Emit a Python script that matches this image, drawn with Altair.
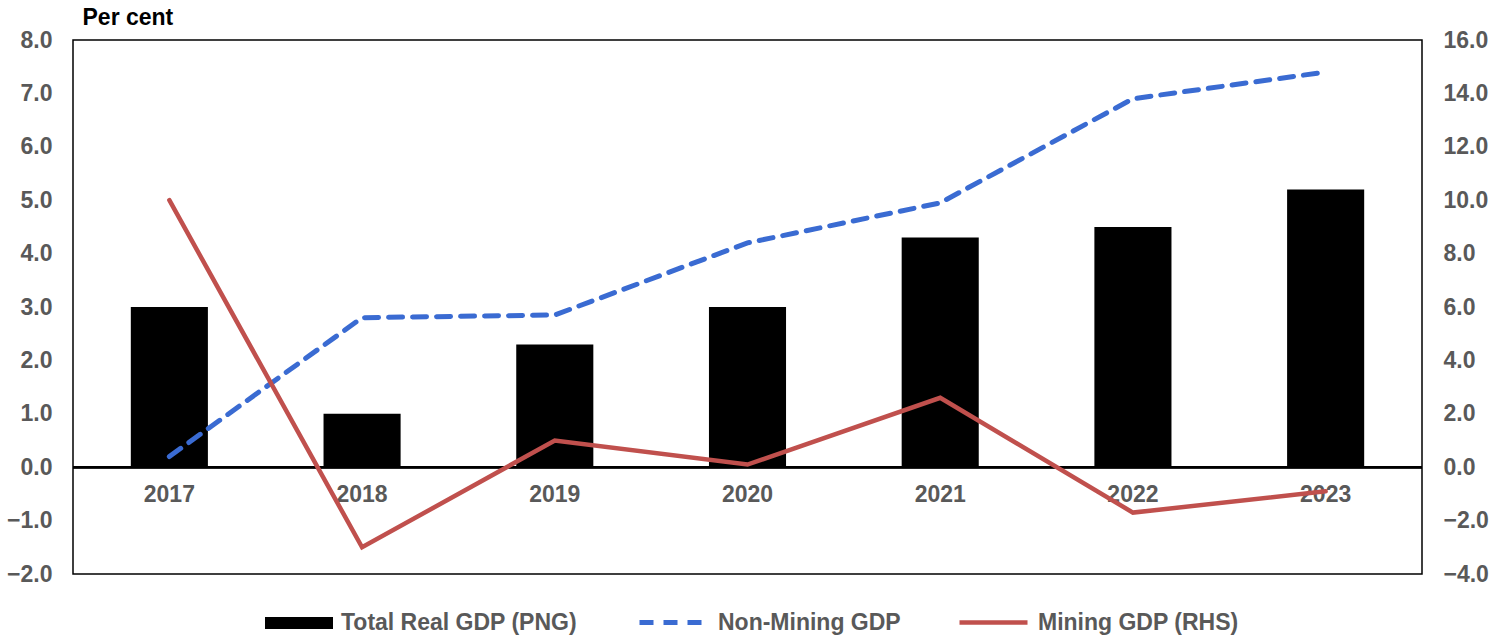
import altair as alt
import pandas as pd

years = ["2017", "2018", "2019", "2020", "2021", "2022", "2023"]
total_gdp = [3.0, 1.0, 2.3, 3.0, 4.3, 4.5, 5.2]
non_mining = [0.2, 2.8, 2.85, 4.2, 4.95, 6.9, 7.4]
mining = [10.0, -3.0, 1.0, 0.1, 2.6, -1.7, -0.9]

series_names = ["Total Real GDP (PNG)", "Non-Mining GDP", "Mining GDP (RHS)"]
series_colors = ["#000000", "#3A6BD2", "#C0504D"]
left_ticks = [-2, -1, 0, 1, 2, 3, 4, 5, 6, 7, 8]
right_ticks = [-4, -2, 0, 2, 4, 6, 8, 10, 12, 14, 16]

df = pd.DataFrame({"year": years, "total": total_gdp, "nonmining": non_mining, "mining": mining})

FONT = "Liberation Sans"
GREY = "#595959"
FS = 23


def make_legend(x, y, **kw):
    return alt.Legend(
        title=None, orient="none", direction="horizontal",
        legendX=x, legendY=y,
        symbolSize=4624,
        labelFont=FONT, labelFontSize=FS, labelFontWeight="bold",
        labelColor=GREY, labelOffset=8, labelLimit=400, **kw,
    )


x_enc = alt.X("year:N", axis=None, sort=years,
              scale=alt.Scale(paddingInner=0.6, paddingOuter=0.3))

left_scale = alt.Scale(domain=[-2, 8], nice=False, zero=False)
right_scale = alt.Scale(domain=[-4, 16], nice=False, zero=False)

left_axis = alt.Axis(
    values=left_ticks, format=".1f", domain=False, ticks=False, grid=False,
    labelFont=FONT, labelFontSize=FS, labelFontWeight="bold", labelColor=GREY,
    labelPadding=21,
    title="Per cent", titleAngle=0, titleX=9, titleY=-16, titleAlign="left",
    titleBaseline="alphabetic", titleFont=FONT, titleFontSize=FS,
    titleFontWeight="bold", titleColor="#000000",
)
right_axis = alt.Axis(
    values=right_ticks, format=".1f", domain=False, ticks=False, grid=False,
    orient="right", labelFont=FONT, labelFontSize=FS, labelFontWeight="bold",
    labelColor=GREY, labelPadding=21, title=None,
)

base = alt.Chart(df)

bars = base.mark_bar().transform_calculate(
    series="'Total Real GDP (PNG)'"
).encode(
    x=x_enc,
    y=alt.Y("total:Q", scale=left_scale, axis=left_axis),
    fill=alt.Fill("series:N",
                  scale=alt.Scale(domain=[series_names[0]], range=[series_colors[0]]),
                  legend=make_legend(192, 549, symbolType="M-1,-0.18L1,-0.18L1,0.18L-1,0.18Z",
                                     symbolStrokeWidth=0, symbolFillColor="#000000")),
)

zero_rule = base.mark_rule(color="#000000", strokeWidth=2).encode(
    y=alt.datum(0),
)

year_labels = base.mark_text(
    font=FONT, fontSize=FS, fontWeight="bold", color=GREY, baseline="middle", dy=28
).encode(
    x=x_enc,
    y=alt.datum(0),
    text="year:N",
)

blue_line = base.mark_line(color=series_colors[1], strokeWidth=5, strokeCap="round").transform_calculate(
    series="'Non-Mining GDP'"
).encode(
    x=x_enc,
    y=alt.Y("nonmining:Q", scale=left_scale, axis=left_axis),
    strokeDash=alt.StrokeDash("series:N",
                              scale=alt.Scale(domain=[series_names[1]], range=[[14, 10]]),
                              legend=make_legend(564, 546, symbolType="M-1,0L1,0",
                                                 symbolStrokeWidth=5,
                                                 symbolStrokeColor=series_colors[1])),
)

red_line = base.mark_line(strokeWidth=4.5, strokeCap="round").transform_calculate(
    series="'Mining GDP (RHS)'"
).encode(
    x=x_enc,
    y=alt.Y("mining:Q", scale=right_scale, axis=right_axis),
    stroke=alt.Stroke("series:N",
                      scale=alt.Scale(domain=[series_names[2]], range=[series_colors[2]]),
                      legend=make_legend(884, 546, symbolType="M-1,0L1,0",
                                         symbolStrokeWidth=4.5)),
)

left_layer = alt.layer(bars, zero_rule, year_labels, blue_line)

chart = alt.layer(left_layer, red_line).resolve_scale(
    y="independent"
).properties(
    width=1349,
    height=534,
    autosize=alt.AutoSizeParams(type="none"),
    padding={"left": 73, "top": 40, "right": 71, "bottom": 64},
    background="#ffffff",
).configure_view(
    stroke="#000000", strokeWidth=1.5
)

chart.save("out.html", embed_options={"renderer": "svg", "actions": False})
